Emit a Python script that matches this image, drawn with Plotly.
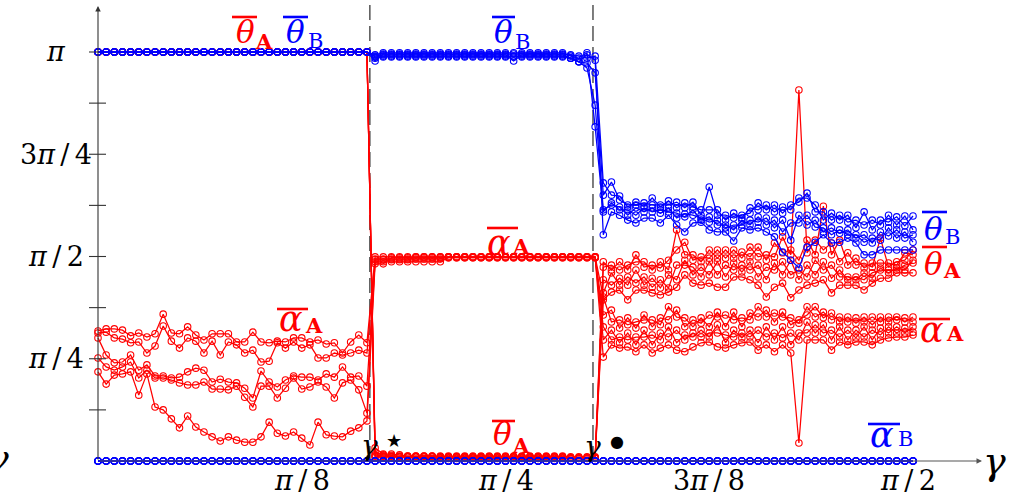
import numpy as np
import plotly.graph_objects as go

PI = np.pi
N = 101
gamma = np.linspace(0, PI / 2, N)      # sampling grid of gamma
gamma_star = 0.524                      # first transition (dashed line)
gamma_dot = 0.954                       # second transition (dashed line)

# ---------------- values in units of pi ----------------
# region 1 (i = 0..33): theta_A = theta_B = pi, alpha_B = 0, alpha_A noisy
alphaA_left = [
    [.318,.323,.323,.320,.306,.313,.303,.311,.359,.313,.311,.328,.308,.296,.311,.311,.311,.291,.291,.315,.291,.289,.293,.291,.301,.301,.291,.296,.286,.289,.264,.291,.308,.289],
    [.313,.315,.301,.298,.289,.291,.264,.281,.330,.293,.276,.301,.293,.264,.293,.259,.291,.284,.264,.271,.242,.244,.289,.276,.291,.276,.284,.252,.252,.264,.259,.264,.271,.264],
    [.301,.259,.240,.242,.259,.222,.235,.208,.208,.203,.205,.218,.227,.222,.193,.200,.193,.191,.178,.154,.220,.193,.181,.198,.208,.205,.205,.198,.213,.205,.230,.205,.208,.183],
    [.252,.230,.222,.230,.242,.203,.222,.203,.203,.198,.191,.186,.186,.193,.176,.176,.174,.183,.156,.132,.183,.183,.154,.178,.203,.176,.181,.193,.181,.154,.191,.198,.174,.117],
    [.218,.188,.210,.213,.218,.161,.213,.132,.125,.103,.081,.110,.083,.071,.059,.049,.059,.051,.046,.046,.059,.095,.068,.061,.071,.056,.039,.095,.064,.061,.059,.073,.081,.098],
]
theta_left = [1.0] * 34

# region 2 (i = 34..61)
thetaA_mid = [
    [0.032, 0.017, 0.017, 0.015] + [0.012] * 20 + [0.010] * 4,
    [0.022, 0.015, 0.014] + [0.010] * 21 + [0.007] * 4,
    [0.015, 0.012] + [0.010] * 22 + [0.007] * 4,
    [0.012] * 8 + [0.008] * 20,
    [0.010] * 6 + [0.006] * 22,
]
alphaA_mid = [
    [0.499] * 28,
    [0.494] * 9 + [0.499] * 19,
    [0.487] * 9 + [0.497] * 19,
    [0.492] * 5 + [0.499] * 23,
    [0.482] * 2 + [0.497] * 26,
]
thetaB_mid = [
    [0.978] + [0.995] * 23 + [0.993, 0.990, 0.985, 0.990],
    [0.990] + [0.993] * 16 + [0.978] + [0.993] * 6 + [0.985, 0.976, 0.973, 0.949],
    [0.988] + [0.990] * 23 + [0.985, 0.976, 0.961, 0.870],
    [0.993] + [0.998] * 23 + [0.990, 0.985, 0.998, 0.817],
    [0.985] + [0.988] * 23 + [0.985, 0.976, 0.993, 0.980],
]

# region 3 (i = 62..100), listed by level (top to bottom) at each gamma
thetaB_right = [
    [.680,.682,.648,.626,.633,.631,.643,.626,.636,.633,.631,.633,.614,.670,.614,.601,.606,.601,.619,.631,.626,.626,.621,.626,.643,.655,.626,.609,.606,.601,.601,.589,.609,.589,.589,.601,.597,.599,.599],
    [.650,.650,.638,.621,.626,.623,.626,.621,.626,.619,.619,.621,.601,.614,.601,.589,.594,.594,.606,.614,.614,.609,.606,.614,.633,.643,.609,.589,.589,.589,.584,.570,.577,.565,.577,.584,.577,.575,.565],
    [.614,.631,.621,.614,.619,.619,.619,.614,.619,.606,.604,.614,.594,.597,.589,.577,.577,.589,.589,.597,.594,.589,.589,.582,.601,.601,.589,.570,.570,.565,.565,.553,.553,.545,.560,.570,.565,.560,.553],
    [.609,.626,.614,.601,.601,.609,.609,.606,.609,.594,.597,.601,.589,.584,.577,.570,.565,.577,.577,.584,.577,.570,.560,.540,.582,.577,.572,.560,.553,.557,.553,.545,.535,.533,.540,.550,.545,.545,.535],
    [.553,.609,.601,.589,.582,.594,.594,.582,.601,.577,.560,.582,.584,.565,.560,.560,.538,.570,.565,.570,.560,.548,.511,.491,.472,.523,.535,.553,.533,.535,.545,.533,.504,.504,.516,.516,.516,.516,.516],
]
thetaA_right = [
    [.487,.479,.487,.479,.504,.487,.479,.487,.491,.565,.535,.504,.499,.516,.516,.516,.516,.511,.523,.523,.504,.533,.548,.516,.907,.540,.540,.623,.533,.540,.509,.496,.484,.484,.545,.484,.487,.509,.516],
    [.474,.467,.467,.467,.487,.474,.467,.472,.467,.516,.504,.491,.487,.496,.496,.496,.496,.496,.499,.499,.491,.499,.509,.504,.491,.509,.504,.516,.504,.487,.479,.479,.472,.474,.484,.474,.479,.491,.504],
    [.443,.460,.447,.450,.467,.450,.447,.443,.455,.479,.491,.474,.474,.487,.487,.479,.484,.479,.487,.479,.474,.484,.487,.491,.467,.479,.491,.487,.479,.467,.450,.450,.460,.460,.472,.467,.472,.479,.491],
    [.411,.430,.430,.430,.435,.430,.425,.423,.423,.443,.479,.455,.450,.455,.455,.450,.467,.462,.467,.450,.443,.467,.455,.455,.443,.450,.455,.467,.447,.450,.443,.443,.443,.447,.467,.460,.467,.467,.484],
    [.394,.413,.418,.394,.418,.418,.411,.406,.413,.425,.455,.435,.430,.435,.425,.425,.450,.450,.443,.430,.401,.425,.435,.399,.418,.430,.435,.443,.411,.430,.430,.430,.418,.435,.447,.447,.460,.460,.460],
]
alphaA_right = [
    [.401,.369,.345,.350,.340,.357,.345,.350,.377,.369,.350,.345,.350,.357,.364,.357,.364,.350,.362,.377,.369,.362,.364,.350,.345,.377,.377,.364,.362,.352,.352,.350,.352,.352,.352,.352,.352,.350,.352],
    [.357,.340,.325,.333,.325,.345,.328,.333,.345,.352,.328,.328,.337,.328,.352,.328,.345,.328,.345,.352,.352,.340,.352,.333,.337,.357,.352,.350,.345,.340,.340,.337,.340,.333,.340,.340,.345,.340,.340],
    [.328,.320,.303,.313,.303,.320,.308,.313,.328,.320,.308,.313,.320,.313,.333,.308,.320,.313,.320,.320,.328,.313,.328,.313,.313,.340,.333,.333,.320,.328,.320,.320,.328,.320,.325,.328,.328,.325,.328],
    [.296,.296,.289,.296,.284,.303,.284,.296,.303,.289,.296,.303,.303,.303,.313,.289,.303,.301,.303,.289,.303,.296,.301,.284,.296,.313,.313,.313,.296,.303,.296,.301,.303,.296,.308,.313,.313,.313,.315],
    [.254,.284,.276,.279,.267,.284,.264,.276,.284,.271,.267,.279,.289,.291,.279,.276,.284,.289,.291,.271,.284,.267,.284,.264,.044,.296,.296,.296,.271,.291,.284,.291,.291,.284,.296,.301,.303,.303,.308],
]
alphaB_all = [0.0] * N
# which level each run occupies in region 3 (alternating columns -> crossing runs)
level_even = [0, 1, 2, 3, 4]
level_odd = [1, 0, 3, 2, 4]

y_ticks = [1/8, 2/8, 3/8, 4/8, 5/8, 6/8, 7/8, 1.0]
y_labels = {2/8: "<i>π</i>\u2009/\u20094", 4/8: "<i>π</i>\u2009/\u20092",
            6/8: "3<i>π</i>\u2009/\u20094", 1.0: "<i>π</i>"}
x_labels = {1/8: "<i>π</i>\u2009/\u20098", 2/8: "<i>π</i>\u2009/\u20094",
            3/8: "3<i>π</i>\u2009/\u20098", 4/8: "<i>π</i>\u2009/\u20092"}

# ---------------- figure ----------------
RED, BLUE, AX = "#ff0000", "#0000ff", "#333333"
W, H = 1020, 495
L, R, T, B = 85, 20, 5, 20
def px2x(px):
    return (px - 98) / 815 * (PI / 2)
def py2y(py):
    return (461 - py) / 409 * PI
def pxp(px):
    return (px - L) / (W - L - R)
def pyp(py):
    return (H - B - py) / (H - T - B)

def by_run(levels, k):
    return [levels[(level_even if c % 2 == 0 else level_odd)[k]][c] for c in range(len(levels[0]))]

fig = go.Figure()

def add_series(vals, color):
    fig.add_trace(go.Scatter(
        x=gamma, y=np.array(vals) * PI, mode="lines+markers",
        line=dict(color=color, width=1.25),
        marker=dict(symbol="circle-open", size=6.5, color=color, line=dict(width=1.1, color=color)),
        cliponaxis=False, showlegend=False, hoverinfo="skip"))

runs = range(5)
for k in runs:
    add_series(theta_left + thetaA_mid[k] + by_run(thetaA_right, k), RED)
    add_series(alphaA_left[k] + alphaA_mid[k] + by_run(alphaA_right, k), RED)
for k in runs:
    add_series(alphaB_all, BLUE)
    add_series(theta_left + thetaB_mid[k] + by_run(thetaB_right, k), BLUE)

serif = "DejaVu Serif"
# dashed transition lines
for g in (gamma_star, gamma_dot):
    fig.add_shape(type="line", x0=g, x1=g, y0=0, y1=py2y(5), layer="below",
                  line=dict(color="#3a3a3a", width=1.3, dash="15px,6px"))
# axes
fig.add_annotation(x=0, y=py2y(6), ax=0, ay=0, axref="x", ayref="y", text="",
                   showarrow=True, arrowhead=2, arrowsize=1, arrowwidth=1.1, arrowcolor=AX, standoff=0)
fig.add_annotation(x=px2x(982), y=0, ax=0, ay=0, axref="x", ayref="y", text="",
                   showarrow=True, arrowhead=2, arrowsize=1, arrowwidth=1.1, arrowcolor="#555555", standoff=0)
for v in y_ticks:
    fig.add_shape(type="line", xsizemode="pixel", xanchor=0, x0=-9, x1=(0 if v == 1.0 else 8),
                  y0=v * PI, y1=v * PI, line=dict(color=AX, width=1.1))

def paper_text(px, py, text, size, color="black"):
    fig.add_annotation(x=pxp(px), y=pyp(py), xref="paper", yref="paper", text=text,
                       showarrow=False, xanchor="center", yanchor="middle",
                       font=dict(family=serif, size=size, color=color))

for v, t in y_labels.items():
    paper_text(56, 461 - v * 409, t, 27)
for v, t in x_labels.items():
    paper_text(98 + v * 2 * 815 - (5 if v == 0.5 else 0), 480, t, 27)
paper_text(994, 461, "<i>γ</i>", 38)
paper_text(-3, 458, "<i>γ</i>", 38)
# transition markers
paper_text(369, 445, "<i>γ</i>", 28)
paper_text(394, 440, "★", 18)
paper_text(592, 446, "<i>γ</i>", 28)
paper_text(617, 441, "●", 16)

# curve labels: (symbol, sub, color, symbol centre, sub centre, bar x0, bar x1, bar y)
labels = [
    ("θ", "A", RED, (245, 32), (264, 41), 232, 257, 17),
    ("θ", "B", BLUE, (295, 32), (315, 41), 283, 308, 17),
    ("θ", "B", BLUE, (503, 32), (522, 42), 492, 515, 17),
    ("α", "A", RED, (499, 243), (521, 246), 487, 518, 228),
    ("α", "A", RED, (291, 319), (314, 325), 277, 308, 309),
    ("θ", "A", RED, (502, 434), (521, 445), 492, 515, 421),
    ("θ", "B", BLUE, (933, 229), (952, 237), 922, 947, 212),
    ("θ", "A", RED, (933, 264), (952, 270), 922, 947, 247),
    ("α", "A", RED, (932, 330), (955, 333), 919, 950, 319),
    ("α", "B", BLUE, (882, 435), (905, 439), 868, 900, 424),
]
for sym, sub, col, (cx, cy), (sx, sy), b0, b1, by in labels:
    paper_text(cx, cy, f"<i>{sym}</i>", 31 if sym == "θ" else 35, col)
    paper_text(sx, sy, (f"<b>{sub}</b>" if sub == "A" else sub), 21, col)
    fig.add_shape(type="line", x0=px2x(b0), x1=px2x(b1), y0=py2y(by), y1=py2y(by),
                  line=dict(color=col, width=2.6))

fig.update_layout(
    width=W, height=H, margin=dict(l=L, r=R, t=T, b=B),
    paper_bgcolor="white", plot_bgcolor="white",
    xaxis=dict(range=[px2x(L), px2x(W - R)], visible=False, fixedrange=True),
    yaxis=dict(range=[py2y(H - B), py2y(T)], visible=False, fixedrange=True),
)
fig.write_html("out.html")
